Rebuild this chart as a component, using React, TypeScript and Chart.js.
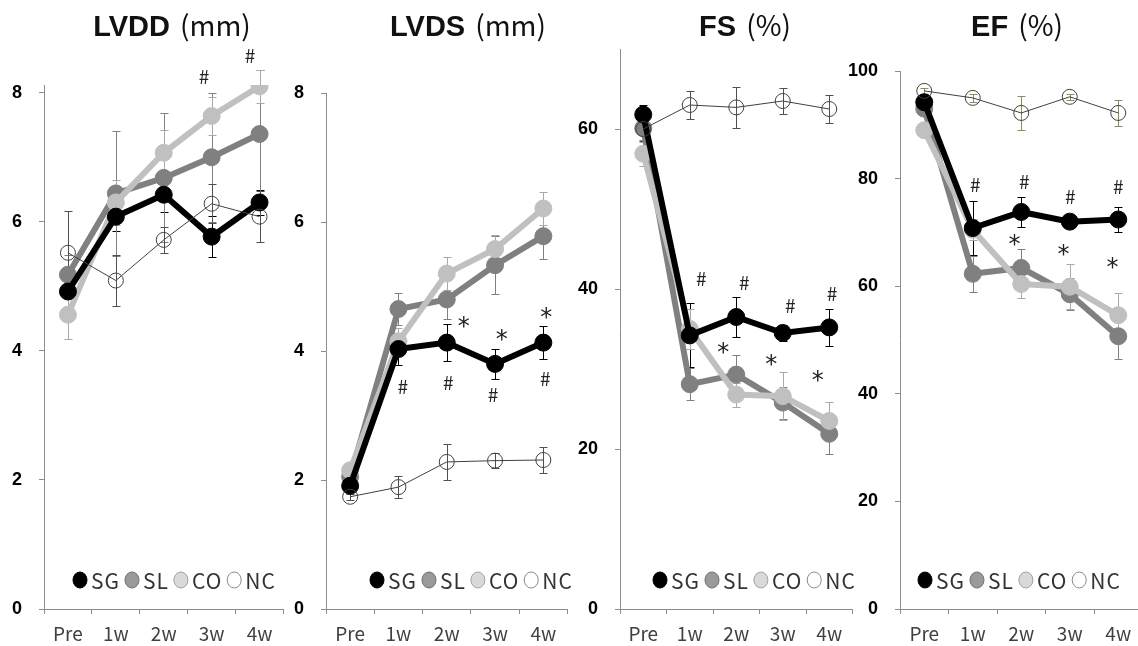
import React, { useEffect, useRef } from 'react';
import { Chart, registerables } from 'chart.js';
Chart.register(...registerables);

const categories = ['Pre', '1w', '2w', '3w', '4w'];
const groups = ['SG', 'SL', 'CO', 'NC'];

// LVDD (mm)
const lvddSG = [4.92, 6.08, 6.42, 5.77, 6.30];
const lvddSL = [5.18, 6.44, 6.68, 7.00, 7.36];
const lvddCO = [4.56, 6.30, 7.07, 7.64, 8.10];
const lvddNC = [5.52, 5.09, 5.72, 6.28, 6.08];
const lvddSGe = [0.25, 0.22, 0.27, 0.32, 0.2];
const lvddSLe = [0.3, 0.97, 1.0, 1.0, 1.0];
const lvddCOe = [0.37, 0.35, 0.35, 0.3, 0.26];
const lvddNCe = [0.65, 0.39, 0.2, 0.3, 0.4];
const lvddTicks = [0, 2, 4, 6, 8];
const lvddMarks = [
  { i: 2.84, v: 8.25, s: '#' },
  { i: 3.8, v: 8.57, s: '#' },
];

// LVDS (mm)
const lvdsSG = [1.91, 4.03, 4.13, 3.80, 4.13];
const lvdsSL = [2.05, 4.65, 4.80, 5.33, 5.78];
const lvdsCO = [2.15, 4.15, 5.20, 5.58, 6.21];
const lvdsNC = [1.74, 1.89, 2.28, 2.30, 2.31];
const lvdsSGe = [0.1, 0.25, 0.29, 0.23, 0.25];
const lvdsSLe = [0.1, 0.25, 0.3, 0.45, 0.35];
const lvdsCOe = [0.1, 0.2, 0.26, 0.22, 0.26];
const lvdsNCe = [0.05, 0.17, 0.28, 0.12, 0.2];
const lvdsTicks = [0, 2, 4, 6, 8];
const lvdsMarks = [
  { i: 2.35, v: 4.45, s: '*' },
  { i: 3.14, v: 4.25, s: '*' },
  { i: 4.06, v: 4.59, s: '*' },
  { i: 1.09, v: 3.44, s: '#' },
  { i: 2.03, v: 3.5, s: '#' },
  { i: 2.96, v: 3.32, s: '#' },
  { i: 4.04, v: 3.57, s: '#' },
];

// FS (%)
const fsSG = [61.8, 34.2, 36.5, 34.5, 35.2];
const fsSL = [60.1, 28.1, 29.3, 25.8, 21.9];
const fsCO = [56.9, 35.0, 26.8, 26.6, 23.5];
const fsNC = [60.0, 63.0, 62.7, 63.5, 62.5];
const fsSGe = [1.2, 4.0, 2.5, 1.0, 2.3];
const fsSLe = [1.5, 2.0, 2.5, 2.0, 2.5];
const fsCOe = [1.5, 2.5, 1.5, 3.0, 2.4];
const fsNCe = [1.5, 1.7, 2.6, 1.6, 1.8];
const fsTicks = [0, 20, 40, 60];
const fsMarks = [
  { i: 1.25, v: 41.2, s: '#' },
  { i: 2.17, v: 40.7, s: '#' },
  { i: 3.16, v: 37.9, s: '#' },
  { i: 4.06, v: 39.4, s: '#' },
  { i: 1.72, v: 32.6, s: '*' },
  { i: 2.75, v: 31.1, s: '*' },
  { i: 3.75, v: 29.1, s: '*' },
];

// EF (%)
const efSG = [94.2, 70.8, 73.8, 72.0, 72.4];
const efSL = [93.0, 62.3, 63.4, 58.5, 50.7];
const efCO = [89.0, 70.5, 60.4, 59.9, 54.6];
const efNC = [96.3, 95.0, 92.2, 95.2, 92.2];
const efSGe = [1.0, 5.0, 2.8, 0.8, 2.4];
const efSLe = [1.0, 3.4, 3.5, 3.0, 4.2];
const efCOe = [1.0, 2.0, 2.6, 4.2, 4.2];
const efNCe = [0.5, 0.8, 3.2, 0.6, 2.5];
const efTicks = [0, 20, 40, 60, 80, 100];
const efMarks = [
  { i: 1.05, v: 78.8, s: '#' },
  { i: 2.06, v: 79.4, s: '#' },
  { i: 3.01, v: 76.6, s: '#' },
  { i: 4.0, v: 78.4, s: '#' },
  { i: 1.86, v: 68.6, s: '*' },
  { i: 2.87, v: 66.7, s: '*' },
  { i: 3.88, v: 64.3, s: '*' },
];

const CJK = '"Noto Sans CJK JP", "Noto Sans", sans-serif';

const panels = [
  {
    title: 'LVDD', unit: '(mm)', series: [lvddSG, lvddSL, lvddCO, lvddNC], errs: [lvddSGe, lvddSLe, lvddCOe, lvddNCe],
    ticks: lvddTicks, marks: lvddMarks, max: 8.12, left: 0, width: 293, axisW: 44, padTop: 85, legendDx: 29, titleX: 172, ncErr: '#505050',
  },
  {
    title: 'LVDS', unit: '(mm)', series: [lvdsSG, lvdsSL, lvdsCO, lvdsNC], errs: [lvdsSGe, lvdsSLe, lvdsCOe, lvdsNCe],
    ticks: lvdsTicks, marks: lvdsMarks, max: 8, left: 276, width: 301, axisW: 50, padTop: 93, legendDx: 44, titleX: 468, ncErr: '#505050',
  },
  {
    title: 'FS', unit: '(%)', series: [fsSG, fsSL, fsCO, fsNC], errs: [fsSGe, fsSLe, fsCOe, fsNCe],
    ticks: fsTicks, marks: fsMarks, max: 70, left: 566, width: 296, axisW: 54, padTop: 49, legendDx: 33, titleX: 745, ncErr: '#505050',
  },
  {
    title: 'EF', unit: '(%)', series: [efSG, efSL, efCO, efNC], errs: [efSGe, efSLe, efCOe, efNCe],
    ticks: efTicks, marks: efMarks, max: 100, left: 845, width: 307, axisW: 55, padTop: 71, legendDx: 18, titleX: 1017, ncErr: '#8c8c5a',
  },
];

const lineColors = ['#000000', '#808080', '#c0c0c0', '#404040'];
const pointFills = ['#000000', '#808080', '#c0c0c0', 'rgba(0,0,0,0)'];
const lineWidths = [6, 6, 6, 1];
const orders = [1, 3, 2, 0];
const errColors = ['#000000', '#808080', '#a8a8a8'];
const legendFills = ['#000000', '#9a9a9a', '#d9d9d9', '#ffffff'];
const legendStrokes = ['#000000', '#6f6f6f', '#a0a0a0', '#8a8a8a'];

function makePlugins(p: any) {
  const errorBars = {
    id: 'errorBars',
    beforeDatasetsDraw(chart: any) {
      const { ctx } = chart;
      const xs = chart.scales.x;
      const ys = chart.scales.y;
      chart.data.datasets.forEach((ds: any) => {
        const errs = ds.errors;
        if (!errs) return;
        ctx.save();
        ctx.strokeStyle = ds.errColor;
        ctx.lineWidth = 1;
        ds.data.forEach((v: number, i: number) => {
          const px = Math.round(xs.getPixelForValue(i)) + 0.5;
          const top = Math.round(ys.getPixelForValue(v + errs[i])) + 0.5;
          const bot = Math.round(ys.getPixelForValue(v - errs[i])) + 0.5;
          ctx.beginPath();
          ctx.moveTo(px, top);
          ctx.lineTo(px, bot);
          ctx.moveTo(px - 4, top);
          ctx.lineTo(px + 4, top);
          ctx.moveTo(px - 4, bot);
          ctx.lineTo(px + 4, bot);
          ctx.stroke();
        });
        ctx.restore();
      });
    },
  };
  const marks = {
    id: 'sigMarks',
    afterDatasetsDraw(chart: any) {
      const { ctx } = chart;
      const xs = chart.scales.x;
      const ys = chart.scales.y;
      ctx.save();
      ctx.fillStyle = '#222';
      ctx.textAlign = 'center';
      ctx.textBaseline = 'alphabetic';
      p.marks.forEach((m: any) => {
        ctx.font = m.s === '*' ? '24px "DejaVu Sans", sans-serif' : `19px ${CJK}`;
        const px = xs.getPixelForValue(m.i);
        const py = ys.getPixelForValue(m.v);
        const mt = ctx.measureText(m.s);
        ctx.fillText(m.s, px, py + (mt.actualBoundingBoxAscent - mt.actualBoundingBoxDescent) / 2);
      });
      ctx.restore();
    },
  };
  const legend = {
    id: 'miniLegend',
    afterDraw(chart: any) {
      const { ctx, chartArea } = chart;
      let x = chartArea.left + p.legendDx;
      const y = chartArea.bottom - 29;
      ctx.save();
      ctx.font = `21px ${CJK}`;
      ctx.textBaseline = 'middle';
      ctx.textAlign = 'left';
      try { (ctx as any).letterSpacing = '1px'; } catch (e) {}
      groups.forEach((g, k) => {
        ctx.beginPath();
        ctx.ellipse(x + 7, y, 7, 8, 0, 0, Math.PI * 2);
        ctx.fillStyle = legendFills[k];
        ctx.fill();
        ctx.strokeStyle = legendStrokes[k];
        ctx.lineWidth = 1;
        ctx.stroke();
        x += 18;
        ctx.fillStyle = '#333';
        ctx.fillText(g, x, y + 1);
        x += ctx.measureText(g).width + 5;
      });
      ctx.restore();
    },
  };
  return [errorBars, marks, legend];
}

function Panel({ p }: { p: any }) {
  const ref = useRef<HTMLCanvasElement | null>(null);
  useEffect(() => {
    const datasets = groups.map((g, k) => ({
      label: g,
      data: p.series[k],
      errors: p.errs[k],
      errColor: k === 3 ? p.ncErr : errColors[k],
      borderColor: lineColors[k],
      backgroundColor: pointFills[k],
      borderWidth: lineWidths[k],
      pointRadius: k === 3 ? 7.5 : 8.5,
      pointBorderWidth: 1,
      pointBorderColor: lineColors[k],
      pointBackgroundColor: pointFills[k],
      pointHoverRadius: k === 3 ? 7.5 : 8.5,
      tension: 0,
      fill: false,
      order: orders[k],
    }));
    const chart = new Chart(ref.current as HTMLCanvasElement, {
      type: 'line',
      data: { labels: categories, datasets },
      plugins: makePlugins(p) as any,
      options: {
        animation: false,
        responsive: false,
        devicePixelRatio: 1,
        layout: { padding: { top: p.padTop, right: 0, left: 0, bottom: 0 } },
        plugins: {
          legend: { display: false },
          tooltip: { enabled: false },
          title: { display: false },
        },
        scales: {
          x: {
            type: 'category',
            offset: true,
            grid: { display: true, drawOnChartArea: false, drawTicks: true, tickLength: 5, color: '#8c8c8c', offset: true },
            border: { display: true, color: '#8c8c8c', width: 1 },
            ticks: { font: { family: CJK, size: 19 }, color: '#404040', padding: 8, maxRotation: 0, autoSkip: false },
            afterFit: (s: any) => { s.height = 37; },
          },
          y: {
            min: 0,
            max: p.max,
            grid: { display: true, drawOnChartArea: false, drawTicks: true, tickLength: 5, color: '#8c8c8c' },
            border: { display: true, color: '#8c8c8c', width: 1 },
            ticks: { font: { family: '"Liberation Sans", Arial, sans-serif', size: 18, weight: 'bold' }, color: '#000', padding: 17 },
            afterBuildTicks: (axis: any) => {
              axis.ticks = p.ticks.map((v: number) => ({ value: v }));
            },
            afterFit: (s: any) => { s.width = p.axisW; },
          },
        },
      } as any,
    });
    return () => chart.destroy();
  }, []);
  return (
    <canvas
      ref={ref}
      width={p.width}
      height={646}
      style={{ position: 'absolute', left: p.left, top: 0, width: p.width, height: 646 }}
    />
  );
}

export default function App() {
  return (
    <div style={{ position: 'fixed', left: 0, top: 0, width: 1138, height: 646, overflow: 'hidden', background: '#fff' }}>
      {panels.map((p, idx) => (
        <Panel key={idx} p={p} />
      ))}
      {panels.map((p, idx) => (
        <div
          key={'t' + idx}
          style={{
            position: 'absolute', left: p.titleX - 150, top: 7, width: 300, textAlign: 'center',
            lineHeight: '34px', whiteSpace: 'nowrap', color: '#111',
          }}
        >
          <span style={{ fontFamily: '"Liberation Sans", Arial, sans-serif', fontWeight: 'bold', fontSize: 29 }}>{p.title}</span>
          <span style={{ fontFamily: CJK, fontWeight: 400, fontSize: 28, marginLeft: 10 }}>{p.unit}</span>
        </div>
      ))}
    </div>
  );
}
